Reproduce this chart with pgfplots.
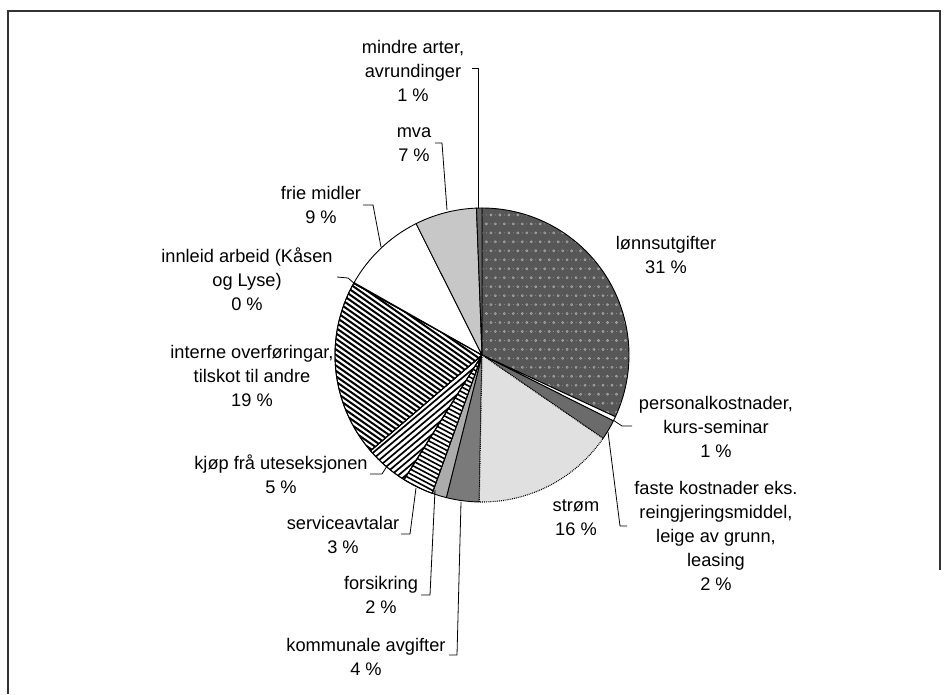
\documentclass[border=0pt]{standalone}
\usepackage{pgfplots}
\pgfplotsset{compat=1.18}
\usepackage{fontspec}
\setmainfont{Liberation Sans}
\usetikzlibrary{patterns,patterns.meta}

\tikzdeclarepattern{
  name=lonndots,
  type=uncolored,
  bottom left={(-1pt,-1pt)},
  top right={(10pt,19pt)},
  tile size={(9pt,18pt)},
  code={
    \draw[line width=0.7pt] (2.25pt,4.5pt) circle (1.1pt);
    \draw[line width=0.7pt] (6.75pt,13.5pt) circle (1.1pt);
    \fill (6.75pt,4.5pt) circle (0.45pt);
    \fill (2.25pt,13.5pt) circle (0.45pt);
  }
}

% shares (per cent), clockwise from 12 o'clock
\pgfmathsetmacro\sA{0}
\pgfmathsetmacro\sB{\sA+31.9} % lonnsutgifter 31 %
\pgfmathsetmacro\sC{\sB+0.5}  % personalkostnader 1 %
\pgfmathsetmacro\sD{\sC+2.2}  % faste kostnader 2 %
\pgfmathsetmacro\sE{\sD+15.7} % strom 16 %
\pgfmathsetmacro\sF{\sE+3.6}  % kommunale avgifter 4 %
\pgfmathsetmacro\sG{\sF+1.6}  % forsikring 2 %
\pgfmathsetmacro\sH{\sG+3.4}  % serviceavtalar 3 %
\pgfmathsetmacro\sI{\sH+4.8}  % kjop fra uteseksjonen 5 %
\pgfmathsetmacro\sJ{\sI+19.4} % interne overforingar 19 %
\pgfmathsetmacro\sK{\sJ+0.1}  % innleid arbeid 0 %
\pgfmathsetmacro\sL{\sK+9.4}  % frie midler 9 %
\pgfmathsetmacro\sM{\sL+6.8}  % mva 7 %
\pgfmathsetmacro\sN{\sM+0.6}  % mindre arter 1 %

\def\cx{482}
\def\cy{355}
\def\R{147bp}

\newcommand\pieslice[3]{%
  \path[draw=black, line width=0.9bp, line join=round, #3] (axis cs:\cx,\cy) -- ++({90-3.6*#1}:\R)
    arc[start angle={90-3.6*#1}, end angle={90-3.6*#2}, radius=\R] -- cycle;}

% hatch overlay: start, end, angle, spacing, line width
\newcommand\hatchslice[5]{%
  \begin{scope}
    \clip (C) -- ++({90-3.6*#1}:\R) arc[start angle={90-3.6*#1}, end angle={90-3.6*#2}, radius=\R] -- cycle;
    \begin{scope}[shift={(C)}, rotate=#3]
      \foreach \k in {-40,...,40} \draw[line width=#5] (-160bp,{\k*#4}) -- (160bp,{\k*#4});
    \end{scope}
  \end{scope}
  \draw[line width=0.9bp, line join=round] (C) -- ++({90-3.6*#1}:\R) arc[start angle={90-3.6*#1}, end angle={90-3.6*#2}, radius=\R] -- cycle;}

\begin{document}
\begin{tikzpicture}[lbl/.style={font={\fontsize{18.3}{24.3}\selectfont}, align=center, inner sep=0pt}]
\begin{axis}[
  x=1bp, y=1bp,
  xmin=0, xmax=951, ymin=0, ymax=694,
  y dir=reverse,
  hide axis, clip=false,
]
\path (axis cs:0,0) rectangle (axis cs:951,694);
\coordinate (C) at (axis cs:\cx,\cy);
% frame
\draw[line width=1.3bp, black!80] (axis cs:8,694) -- (axis cs:8,11) -- (axis cs:940,11) -- (axis cs:940,570);

% slices
\pieslice{\sA}{\sB}{preaction={fill=black!66}, pattern=lonndots, pattern color=black!35}
\pieslice{\sB}{\sC}{fill=white}
\pieslice{\sC}{\sD}{fill=black!58}
\pieslice{\sE}{\sF}{fill=black!52}
\pieslice{\sF}{\sG}{fill=black!33}
\pieslice{\sG}{\sH}{fill=white}
\pieslice{\sH}{\sI}{fill=white}
\pieslice{\sI}{\sJ}{fill=white}
\pieslice{\sJ}{\sK}{fill=white}
\pieslice{\sK}{\sL}{fill=white}
\pieslice{\sL}{\sM}{fill=black!22}
\pieslice{\sM}{\sN}{fill=black!60}
\pieslice{\sD}{\sE}{fill=black!12, densely dotted, line width=1.1bp}

% leader lines
\begin{scope}[line width=0.8bp]
\draw (axis cs:472,68) -- (axis cs:478,68) -- (axis cs:478,208);
\draw (axis cs:435,143) -- (axis cs:442,143) -- (axis cs:447,210);
\draw (axis cs:363,205) -- (axis cs:373,205) -- (axis cs:381,247);
\draw (axis cs:337,277) -- (axis cs:348,278) -- (axis cs:355,284);
\draw (axis cs:370,474) -- (axis cs:382,474) -- (axis cs:387,466);
\draw (axis cs:401,534) -- (axis cs:410,534) -- (axis cs:416,488);
\draw (axis cs:421,595) -- (axis cs:430,595) -- (axis cs:435,490);
\draw (axis cs:449,655) -- (axis cs:457,655) -- (axis cs:461,502);
\draw (axis cs:613,420) -- (axis cs:622,426) -- (axis cs:632,426);
\draw (axis cs:608,432) -- (axis cs:620,526) -- (axis cs:627,526);
\end{scope}

% labels
\node[lbl] at (axis cs:413,71) {mindre arter,\\avrundinger\\1 \%};
\node[lbl] at (axis cs:414,145) {mva\\7 \%};
\node[lbl] at (axis cs:321,205) {frie midler\\9 \%};
\node[lbl] at (axis cs:247,279) {innleid arbeid (Kåsen\\og Lyse)\\0 \%};
\node[lbl] at (axis cs:252,376) {interne overføringar,\\tilskot til andre\\19 \%};
\node[lbl] at (axis cs:281,474) {kjøp frå uteseksjonen\\5 \%};
\node[lbl] at (axis cs:343,535) {serviceavtalar\\3 \%};
\node[lbl] at (axis cs:381,595) {forsikring\\2 \%};
\node[lbl] at (axis cs:366,657) {kommunale avgifter\\4 \%};
\node[lbl] at (axis cs:666,255) {lønnsutgifter\\31 \%};
\node[lbl] at (axis cs:716,427) {personalkostnader,\\kurs-seminar\\1 \%};
\node[lbl] at (axis cs:716,536) {faste kostnader eks.\\reingjeringsmiddel,\\leige av grunn,\\leasing\\2 \%};
\node[lbl] at (axis cs:576,518) {strøm\\16 \%};
\end{axis}
% line hatching of the three hatched slices
\hatchslice{\sG}{\sH}{-28}{4.2bp}{1.6bp}
\hatchslice{\sH}{\sI}{40}{4.8bp}{1.7bp}
\hatchslice{\sI}{\sJ}{-35}{4.4bp}{2bp}
\end{tikzpicture}
\end{document}
